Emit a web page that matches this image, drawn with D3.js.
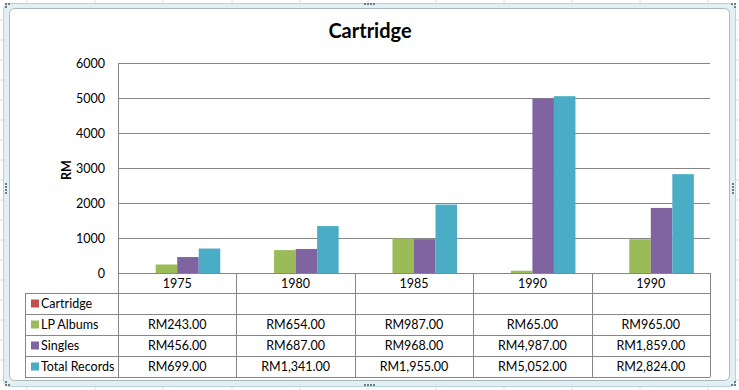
<!DOCTYPE html>
<html>
<head>
<meta charset="utf-8">
<script src="https://cdn.jsdelivr.net/npm/d3@7"></script>
<style>
html,body{margin:0;padding:0;background:#fff;}
svg{display:block;}
text{font-family:Lato,"Open Sans",sans-serif;fill:#000;}
</style>
</head>
<body>
<svg id="chart" width="739" height="390"></svg>
<script>
const title = "Cartridge";
const yAxisTitle = "RM";
const categories = ["1975", "1980", "1985", "1990", "1990"];
const seriesNames = ["Cartridge", "LP Albums", "Singles", "Total Records"];
const seriesColors = ["#C0504D", "#9BBB59", "#8064A2", "#4BACC6"];
const cartridge = [null, null, null, null, null];
const lpAlbums = [243, 654, 987, 65, 965];
const singles = [456, 687, 968, 4987, 1859];
const totalRecords = [699, 1341, 1955, 5052, 2824];
const yTicks = [0, 1000, 2000, 3000, 4000, 5000, 6000];

const seriesValues = [cartridge, lpAlbums, singles, totalRecords];
const FS = 12.5;

const svg = d3.select("#chart");
const W = 739, H = 390;

// sheet background gridlines
const bg = svg.append("g");
bg.append("rect").attr("width", W).attr("height", H).attr("fill", "#fff");
[27, 95, 163, 232, 300, 368, 436, 504, 572, 640, 708].forEach(xx =>
  bg.append("line").attr("x1", xx).attr("x2", xx).attr("y1", 0).attr("y2", H).attr("stroke", "#dadcdd"));
[20, 40, 60, 80, 100, 120, 140, 160, 180, 200, 220, 240, 260, 280, 300, 320, 340, 360, 380].forEach(yy =>
  bg.append("line").attr("x1", 0).attr("x2", W).attr("y1", yy).attr("y2", yy).attr("stroke", "#dadcdd"));

// chart frame
svg.append("rect").attr("x", 3.5).attr("y", 3.5).attr("width", 732).attr("height", 383)
  .attr("rx", 6).attr("fill", "#e2eff3").attr("stroke", "#b8d2d9");
svg.append("rect").attr("x", 9.5).attr("y", 8.5).attr("width", 720).attr("height", 372)
  .attr("rx", 5).attr("fill", "#fff").attr("stroke", "#a9b9be");

// handles
function dots(px, py, horiz, n) {
  for (let i = 0; i < n; i++) {
    svg.append("rect").attr("x", horiz ? px + i * 3 : px).attr("y", horiz ? py : py + i * 3)
      .attr("width", 2).attr("height", 2).attr("fill", "#6f7f86");
  }
}
dots(364, 3, true, 4); dots(364, 384, true, 4);
dots(5, 183, false, 4); dots(732, 183, false, 4);
dots(5, 3, true, 2); dots(5, 6, false, 1);
dots(731, 3, true, 2); dots(734, 6, false, 1);
dots(731, 384, true, 2); dots(734, 381, false, 1);
dots(5, 384, true, 2); dots(5, 381, false, 1);

// plot geometry
const pLeft = 118, pRight = 710, pTop = 63, pBottom = 273;
const x = d3.scaleBand().domain(d3.range(categories.length)).range([pLeft, pRight]).paddingInner(0).paddingOuter(0);
const xs = d3.scaleBand().domain(d3.range(seriesNames.length)).range([0, x.bandwidth()]).paddingInner(0).paddingOuter(0.75);
const y = d3.scaleLinear().domain([0, 6000]).range([pBottom, pTop]);

// title
svg.append("text").attr("x", 370).attr("y", 38).attr("text-anchor", "middle")
  .attr("font-size", 20).attr("font-weight", "bold").text(title);

// y axis labels
const yAxis = d3.axisLeft(y).tickValues(yTicks).tickSize(0).tickPadding(13).tickFormat(d3.format("d"));
const gy = svg.append("g").attr("transform", `translate(${pLeft},0)`).call(yAxis);
gy.select(".domain").remove();
gy.selectAll("text").attr("font-size", FS).attr("font-family", "Lato, 'Open Sans', sans-serif").attr("fill", "#000");

// gridlines
svg.append("g").selectAll("line").data(yTicks.filter(d => d > 0)).join("line")
  .attr("x1", pLeft).attr("x2", pRight).attr("y1", d => Math.round(y(d)) + 0.5).attr("y2", d => Math.round(y(d)) + 0.5)
  .attr("stroke", "#868686");

// axis title
svg.append("text").attr("transform", "translate(71,170) rotate(-90)").attr("text-anchor", "middle")
  .attr("font-size", FS).attr("font-weight", "bold").text(yAxisTitle);

// bars
const barsG = svg.append("g");
seriesValues.forEach((vals, s) => {
  barsG.append("g").selectAll("rect").data(vals.map((v, i) => ({ v, i })).filter(d => d.v != null)).join("rect")
    .attr("x", d => x(d.i) + xs(s))
    .attr("width", xs.bandwidth())
    .attr("y", d => y(d.v))
    .attr("height", d => y(0) - y(d.v))
    .attr("fill", seriesColors[s]);
});

// axis line
svg.append("line").attr("x1", pLeft + 0.5).attr("x2", pLeft + 0.5).attr("y1", pTop).attr("y2", pBottom).attr("stroke", "#868686");

// data table
const tableLeft = 25;
const rowEdges = [273, 293, 314, 335, 356, 377];
const tg = svg.append("g").attr("stroke", "#868686").attr("shape-rendering", "crispEdges");
tg.append("line").attr("x1", pLeft).attr("x2", pRight).attr("y1", rowEdges[0] + 0.5).attr("y2", rowEdges[0] + 0.5);
rowEdges.slice(1).forEach(r =>
  tg.append("line").attr("x1", tableLeft).attr("x2", pRight).attr("y1", r + 0.5).attr("y2", r + 0.5));
tg.append("line").attr("x1", tableLeft + 0.5).attr("x2", tableLeft + 0.5).attr("y1", rowEdges[1]).attr("y2", rowEdges[5]);
d3.range(categories.length + 1).forEach(i => {
  const xx = Math.round(i < categories.length ? x(i) : pRight) + 0.5;
  tg.append("line").attr("x1", xx).attr("x2", xx).attr("y1", rowEdges[0]).attr("y2", rowEdges[5]);
});

// category labels
svg.append("g").selectAll("text").data(categories).join("text")
  .attr("x", (d, i) => x(i) + x.bandwidth() / 2).attr("y", (rowEdges[0] + rowEdges[1]) / 2 + 4.5)
  .attr("text-anchor", "middle").attr("font-size", FS).text(d => d);

const fmt = v => "RM" + d3.format(",.2f")(v);
seriesNames.forEach((name, s) => {
  const cy = (rowEdges[s + 1] + rowEdges[s + 2]) / 2;
  svg.append("rect").attr("x", 31).attr("y", cy - 4).attr("width", 8).attr("height", 8).attr("fill", seriesColors[s]);
  svg.append("text").attr("x", 41).attr("y", cy + 4.5).attr("font-size", FS).text(name);
  svg.append("g").selectAll("text").data(seriesValues[s].map((v, i) => ({ v, i })).filter(d => d.v != null)).join("text")
    .attr("x", d => x(d.i) + x.bandwidth() / 2).attr("y", cy + 4.5)
    .attr("text-anchor", "middle").attr("font-size", FS).text(d => fmt(d.v));
});
</script>
</body>
</html>
